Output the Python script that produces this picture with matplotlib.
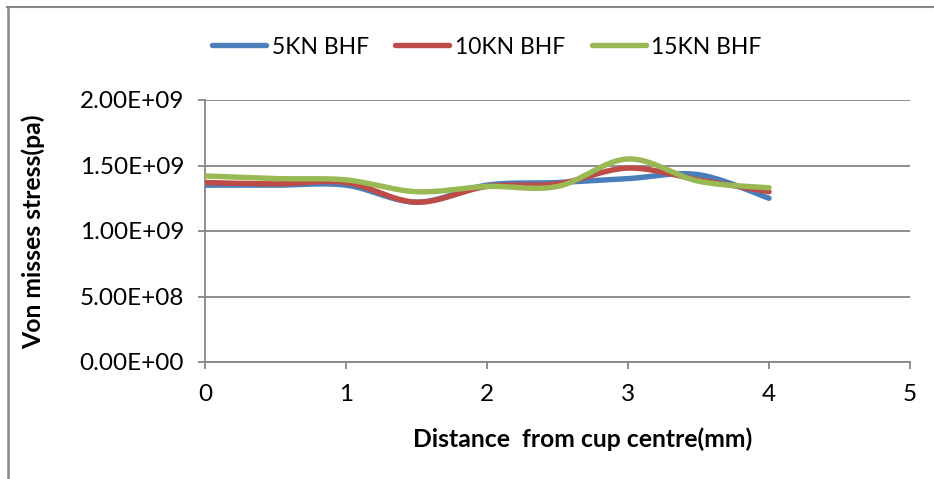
import numpy as np
import matplotlib
matplotlib.use("Agg")
import matplotlib.pyplot as plt
from matplotlib.lines import Line2D

# Distance from cup centre (mm) and von Mises stress (Pa) for each blank holder force
distance = [0, 0.5, 1, 1.5, 2, 2.5, 3, 3.5, 4]
stress_5kn = [1.35e9, 1.35e9, 1.35e9, 1.22e9, 1.35e9, 1.37e9, 1.40e9, 1.43e9, 1.25e9]
stress_10kn = [1.37e9, 1.36e9, 1.37e9, 1.22e9, 1.34e9, 1.36e9, 1.48e9, 1.39e9, 1.30e9]
stress_15kn = [1.42e9, 1.40e9, 1.39e9, 1.30e9, 1.34e9, 1.34e9, 1.55e9, 1.38e9, 1.33e9]

series_labels = ["5KN BHF", "10KN BHF", "15KN BHF"]
series_colors = ["#4A7EBB", "#BE4B48", "#98B954"]

y_ticks = [0, 5e8, 1e9, 1.5e9, 2e9]
y_tick_labels = ["0.00E+00", "5.00E+08", "1.00E+09", "1.50E+09", "2.00E+09"]
x_ticks = [0, 1, 2, 3, 4, 5]


def smooth(xs, ys, n=40):
    """Spreadsheet-style smoothed line: cubic Bezier segments through the points."""
    p = np.column_stack([xs, ys]).astype(float)
    ext = np.vstack([p[0], p, p[-1]])
    out = []
    t = np.linspace(0, 1, n)[:, None]
    for i in range(len(p) - 1):
        p0, p1 = ext[i + 1], ext[i + 2]
        c1 = p0 + (ext[i + 2] - ext[i]) / 6.0
        c2 = p1 - (ext[i + 3] - ext[i + 1]) / 6.0
        seg = ((1 - t) ** 3) * p0 + 3 * ((1 - t) ** 2) * t * c1 + 3 * (1 - t) * t ** 2 * c2 + t ** 3 * p1
        out.append(seg if i == 0 else seg[1:])
    seg = np.vstack(out)
    return seg[:, 0], seg[:, 1]


font = "Lato"
fig = plt.figure(figsize=(9.34, 4.79), dpi=100)
ax = fig.add_axes([205 / 934, 1 - 362 / 479, 705 / 934, 262 / 479])

for ys, col in zip([stress_5kn, stress_10kn, stress_15kn], series_colors):
    sx, sy = smooth(distance, ys)
    ax.plot(sx, sy, color=col, lw=3.9, solid_capstyle="round", zorder=3)

ax.set_xlim(0, 5)
ax.set_ylim(0, 2e9)
ax.set_yticks(y_ticks)
ax.set_yticklabels(y_tick_labels)
ax.set_xticks(x_ticks)
ax.set_xticklabels([str(v) for v in x_ticks])

grid_col = "#868686"
ax.yaxis.grid(True, color=grid_col, lw=1.3)
ax.set_axisbelow(True)
for side in ["top", "right"]:
    ax.spines[side].set_visible(False)
for side in ["left", "bottom"]:
    ax.spines[side].set_color(grid_col)
    ax.spines[side].set_linewidth(1.3)
ax.tick_params(axis="both", direction="out", length=5, width=1.3, color=grid_col,
               labelsize=17.5, labelcolor="black")
ax.tick_params(axis="y", pad=10)
ax.tick_params(axis="x", pad=11)
for lbl in ax.get_xticklabels() + ax.get_yticklabels():
    lbl.set_fontfamily(font)

ax.set_xlabel("Distance  from cup centre(mm)", fontsize=17.8, fontweight="bold", family=font)
ax.set_ylabel("Von misses stress(pa)", fontsize=17.8, fontweight="bold", family=font)
ax.xaxis.set_label_coords((583 - 205) / 705, -(427 - 362) / 262)
ax.yaxis.set_label_coords((45 - 205) / 705, (362 - 232) / 262)

handles = [Line2D([0], [0], color=c, lw=3.9, solid_capstyle="round") for c in series_colors]
fig.legend(handles, series_labels, loc="center", bbox_to_anchor=(487 / 934, 1 - 47 / 479),
           ncol=3, frameon=False, prop={"family": font, "size": 16.5},
           handlelength=2.35, handletextpad=0.25, columnspacing=1.15)

# chart area border (top and left edges)
fig.add_artist(Line2D([7 / 934, 1], [1 - 7 / 479, 1 - 7 / 479], color="#888888", lw=1.5,
                      transform=fig.transFigure))
fig.add_artist(Line2D([7.5 / 934, 7.5 / 934], [0, 1 - 7 / 479], color="#888888", lw=1.8,
                      transform=fig.transFigure))

fig.savefig("out.png", dpi=100)
